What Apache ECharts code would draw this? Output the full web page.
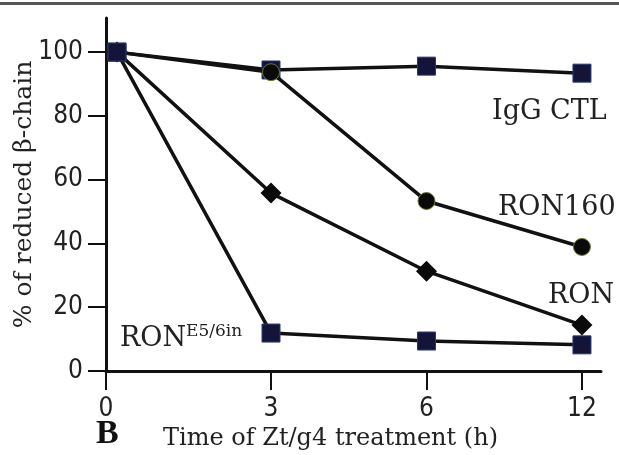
<!DOCTYPE html>
<html>
<head>
<meta charset="utf-8">
<script src="https://cdn.jsdelivr.net/npm/echarts@6/dist/echarts.min.js"></script>
<style>html,body{margin:0;padding:0;background:#fff}#c{width:619px;height:455px}</style>
</head>
<body>
<div id="c"></div>
<script>
// ---- data ----
const tickHours = [0, 3, 6, 12];
const tickLabels = ['0', '3', '6', '12'];
const sampleHours = [0.2, 3, 6, 12];
const iggCtl = [100, 94.4, 95.6, 93.4];
const ron160 = [100, 93.7, 53.3, 38.9];
const ron = [100, 55.8, 31.3, 14.4];
const ronE56in = [100, 11.9, 9.4, 8.2];
const yTicks = [0, 20, 40, 60, 80, 100];

// broken-axis layout: position of each tick hour along the x axis (axis units)
const knots = [0, 1.04, 2.02, 3];
function pos(h) {
  for (let i = 0; i < tickHours.length - 1; i++) {
    if (h <= tickHours[i + 1]) {
      const f = (h - tickHours[i]) / (tickHours[i + 1] - tickHours[i]);
      return knots[i] + f * (knots[i + 1] - knots[i]);
    }
  }
  return knots[knots.length - 1];
}
const pts = arr => arr.map((v, i) => [pos(sampleHours[i]), v]);

const SERIF = '"DejaVu Serif", "Liberation Serif", serif';
const SANS = '"DejaVu Sans Condensed", "Liberation Sans", Arial, sans-serif';
const chart = echarts.init(document.getElementById('c'));
const lineStyle = { color: '#111', width: 3.5 };
const sq = { color: '#14143a', borderColor: '#2a3a70', borderWidth: 1 };
chart.setOption({
  animation: false,
  grid: { left: 106, right: 18, top: 18, bottom: 84, outerBoundsMode: 'none', containLabel: false },
  xAxis: {
    type: 'value', min: 0, max: 3.12,
    splitLine: { show: false },
    axisLine: { lineStyle: { color: '#111', width: 3 } },
    axisTick: { show: true, length: 19, lineStyle: { color: '#111', width: 2 }, customValues: knots },
    axisLabel: {
      customValues: knots, margin: 25, color: '#222',
      fontFamily: SANS, fontSize: 26,
      formatter: v => { let b = 0; knots.forEach((k, i) => { if (Math.abs(k - v) < Math.abs(knots[b] - v)) b = i; }); return tickLabels[b]; }
    },
    name: 'Time of Zt/g4 treatment (h)', nameLocation: 'middle', nameGap: 51,
    nameTextStyle: { fontFamily: SERIF, fontSize: 24, color: '#222', padding: [0, 46, 0, 0] }
  },
  yAxis: {
    type: 'value', min: 0, max: 110.7,
    splitLine: { show: false },
    axisLine: { lineStyle: { color: '#111', width: 3 } },
    axisTick: { show: true, length: 18, lineStyle: { color: '#111', width: 2 }, customValues: yTicks },
    axisLabel: {
      customValues: yTicks, margin: 23, color: '#222',
      fontFamily: SANS, fontSize: 26
    },
    name: '% of reduced β-chain', nameLocation: 'middle', nameGap: 69, nameRotate: 90, nameMoveOverlap: false,
    nameTextStyle: { fontFamily: SERIF, fontSize: 25, color: '#222' }
  },
  series: [
    { name: 'IgG CTL', type: 'line', data: pts(iggCtl), symbol: 'rect', symbolSize: 18, itemStyle: sq, lineStyle: lineStyle, z: 3 },
    { name: 'RON160', type: 'line', data: pts(ron160), symbol: 'circle', symbolSize: 17, itemStyle: { color: '#0a0a0a', borderColor: '#6a7a30', borderWidth: 1 }, lineStyle: lineStyle, z: 4 },
    { name: 'RON', type: 'line', data: pts(ron), symbol: 'diamond', symbolSize: 21, itemStyle: { color: '#0a0a0a' }, lineStyle: lineStyle, z: 4 },
    { name: 'RONE5/6in', type: 'line', data: pts(ronE56in), symbol: 'rect', symbolSize: 18, itemStyle: sq, lineStyle: lineStyle, z: 4 }
  ],
  graphic: [
    { type: 'rect', shape: { x: 0, y: 2, width: 619, height: 3 }, style: { fill: '#555' } },
    { type: 'text', x: 492, y: 112, style: { text: 'IgG CTL', font: '27px ' + SERIF, fill: '#222', verticalAlign: 'middle' } },
    { type: 'text', x: 498, y: 208, style: { text: 'RON160', font: '27px ' + SERIF, fill: '#222', verticalAlign: 'middle' } },
    { type: 'text', x: 548, y: 296, style: { text: 'RON', font: '27px ' + SERIF, fill: '#222', verticalAlign: 'middle' } },
    { type: 'text', x: 120, y: 323, style: { text: '{a|RON}{b|E5/6in}', rich: { a: { font: '27px ' + SERIF, fill: '#222', verticalAlign: 'bottom' }, b: { font: '17px ' + SERIF, fill: '#222', verticalAlign: 'top', padding: [0, 0, 12, 0] } } } },
    { type: 'text', x: 96, y: 434, style: { text: 'B', font: 'bold 34px "Liberation Serif", serif', fill: '#111', verticalAlign: 'middle' } }
  ]
});
</script>
</body>
</html>
